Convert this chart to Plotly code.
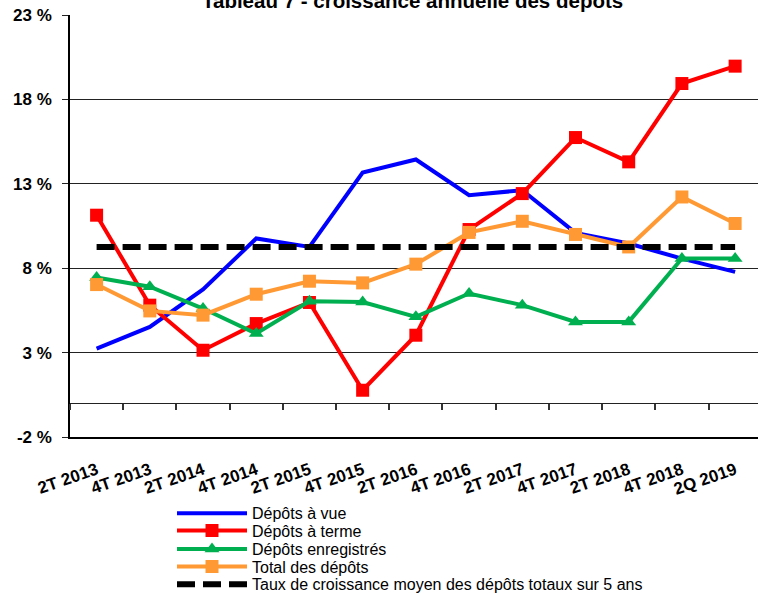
import plotly.graph_objects as go

categories = ["2T 2013", "4T 2013", "2T 2014", "4T 2014", "2T 2015", "4T 2015", "2T 2016",
              "4T 2016", "2T 2017", "4T 2017", "2T 2018", "4T 2018", "2Q 2019"]
depots_vue = [3.24, 4.52, 6.74, 9.76, 9.26, 13.67, 14.44, 12.32, 12.62, 10.09, 9.46, 8.57, 7.78]
depots_terme = [11.14, 5.81, 3.14, 4.72, 5.97, 0.77, 4.03, 10.29, 12.42, 15.74, 14.30, 18.94, 19.97]
depots_enreg = [7.45, 6.90, 5.61, 4.13, 6.04, 6.00, 5.12, 6.50, 5.81, 4.82, 4.82, 8.57, 8.57]
total_depots = [7.03, 5.47, 5.22, 6.46, 7.23, 7.13, 8.24, 10.12, 10.78, 10.00, 9.26, 12.22, 10.65]
taux_moyen = [9.25] * len(categories)
y_ticks = [-2, 3, 8, 13, 18, 23]
y_tick_labels = ["-2 %", "3 %", "8 %", "13 %", "18 %", "23 %"]

FONT = "Liberation Sans, Arial, sans-serif"

# plot area geometry (pixels) used to convert legend/title placement to paper coords
PLOT_L, PLOT_R, PLOT_T, PLOT_B = 70, 758, 15, 437


def py(ypix):
    return (PLOT_B - ypix) / (PLOT_B - PLOT_T)


def px(xpix):
    return (xpix - PLOT_L) / (PLOT_R - PLOT_L)


fig = go.Figure()
fig.add_trace(go.Scatter(x=categories, y=depots_vue, mode="lines", name="Dépôts à vue",
                         legend="legend",
                         line=dict(color="#0000FF", width=4)))
fig.add_trace(go.Scatter(x=categories, y=depots_terme, mode="lines+markers", name="Dépôts à terme",
                         legend="legend2",
                         line=dict(color="#FF0000", width=4),
                         marker=dict(symbol="square", size=13, color="#FF0000")))
fig.add_trace(go.Scatter(x=categories, y=depots_enreg, mode="lines+markers", name="Dépôts enregistrés",
                         legend="legend3",
                         line=dict(color="#00B050", width=4),
                         marker=dict(symbol="triangle-up", size=13, color="#00B050")))
fig.add_trace(go.Scatter(x=categories, y=total_depots, mode="lines+markers", name="Total des dépôts",
                         legend="legend4",
                         line=dict(color="#FF9933", width=4),
                         marker=dict(symbol="square", size=13, color="#FF9933")))
fig.add_trace(go.Scatter(x=categories, y=taux_moyen, mode="lines", xaxis="x2",
                         name="Taux de croissance moyen des dépôts totaux sur 5 ans",
                         legend="legend5",
                         line=dict(color="#000000", width=6, dash="18px,8px")))

legend_rows = [513.3, 530.7, 549.0, 566.7, 584.3]
legend_common = dict(x=px(172), xanchor="left", yanchor="middle",
                     font=dict(size=16, family=FONT, color="black"),
                     bgcolor="rgba(0,0,0,0)", itemwidth=70, borderwidth=0)

xrange = [-0.5, 12.43]
fig.update_layout(
    width=758, height=595,
    margin=dict(l=PLOT_L, r=758 - PLOT_R, t=PLOT_T, b=595 - PLOT_B, autoexpand=False),
    paper_bgcolor="white", plot_bgcolor="white",
    font=dict(family=FONT, color="black"),
    showlegend=True,
    legend=dict(y=py(legend_rows[0]), **legend_common),
    legend2=dict(y=py(legend_rows[1]), **legend_common),
    legend3=dict(y=py(legend_rows[2]), **legend_common),
    legend4=dict(y=py(legend_rows[3]), **legend_common),
    legend5=dict(y=py(legend_rows[4]), **legend_common),
    xaxis=dict(type="category", categoryorder="array", categoryarray=categories,
               range=xrange, showgrid=False, ticks="", tickangle=-19,
               tickfont=dict(size=17, family=FONT, weight="bold"),
               ticklabelstandoff=15,
               showline=True, linecolor="black", linewidth=1.5, zeroline=False),
    xaxis2=dict(type="category", categoryorder="array", categoryarray=categories,
                range=xrange, overlaying="x", anchor="free", position=0.08,
                side="bottom", showgrid=False, showticklabels=False,
                ticks="outside", ticklen=6, tickcolor="#333", tickwidth=1.5,
                tickson="boundaries", showline=True, linecolor="#222", linewidth=1,
                zeroline=False),
    yaxis=dict(range=[-2, 23], tickvals=y_ticks, ticktext=y_tick_labels,
               showgrid=True, gridcolor="#222", gridwidth=1, zeroline=False,
               ticks="outside", ticklen=6, tickcolor="#222",
               tickfont=dict(size=17, family=FONT, weight="bold"),
               ticklabelstandoff=7,
               showline=True, linecolor="black", linewidth=1.5),
)
fig.add_annotation(text="<b>Tableau 7 - croissance annuelle des dépôts</b>",
                   xref="paper", yref="paper", x=px(412), y=py(1),
                   xanchor="center", yanchor="middle", showarrow=False,
                   font=dict(size=20.5, family=FONT, color="black"))

fig.write_html("out.html", config={"displayModeBar": False},
               post_script="document.body.style.margin='0';document.body.style.overflow='hidden';")
